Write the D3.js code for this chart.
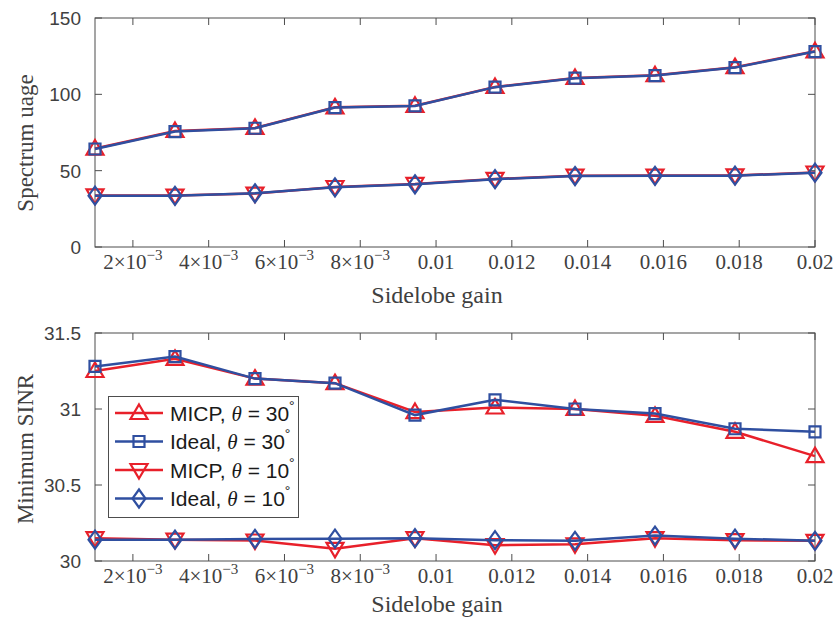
<!DOCTYPE html>
<html>
<head>
<meta charset="utf-8">
<script src="https://cdn.jsdelivr.net/npm/d3@7"></script>
<style>
  body { margin: 0; background: #fff; }
</style>
</head>
<body>
<svg id="chart" width="833" height="619"></svg>
<script>
  // sidelobe gain values (x)
  var gains = [0.001, 0.003111, 0.005222, 0.007333, 0.009444, 0.011556, 0.013667, 0.015778, 0.017889, 0.02];

  // spectrum usage
  var usageMicp30 = [64.5, 76, 78, 91.5, 92.5, 104.8, 110.7, 112.5, 117.8, 128.2];
  var usageIdeal30 = [64.2, 75.6, 77.8, 91.3, 92.4, 104.7, 110.6, 112.3, 117.5, 128.0];
  var usageMicp10 = [33.8, 33.7, 35.0, 39.3, 41.3, 44.6, 46.7, 46.8, 46.9, 48.8];
  var usageIdeal10 = [33.6, 33.5, 35.2, 39.1, 41.1, 44.4, 46.5, 46.6, 46.7, 48.7];

  // minimum SINR
  var sinrMicp30 = [31.25, 31.33, 31.20, 31.17, 30.98, 31.01, 31.0, 30.955, 30.85, 30.69];
  var sinrIdeal30 = [31.28, 31.345, 31.20, 31.17, 30.96, 31.06, 31.0, 30.97, 30.87, 30.85];
  var sinrMicp10 = [30.15, 30.14, 30.135, 30.08, 30.15, 30.104, 30.11, 30.15, 30.137, 30.133];
  var sinrIdeal10 = [30.14, 30.14, 30.145, 30.147, 30.15, 30.137, 30.133, 30.167, 30.147, 30.133];

  // tick labels
  var xTicks = [0.002, 0.004, 0.006, 0.008, 0.01, 0.012, 0.014, 0.016, 0.018, 0.02];
  var xTickLabels = [["2\u00d710", "\u22123"], ["4\u00d710", "\u22123"], ["6\u00d710", "\u22123"], ["8\u00d710", "\u22123"],
    ["0.01"], ["0.012"], ["0.014"], ["0.016"], ["0.018"], ["0.02"]];
  var usageTicks = [0, 50, 100, 150];
  var sinrTicks = [30, 30.5, 31, 31.5];
  var sinrTickLabels = ["30", "30.5", "31", "31.5"];

  var legendNames = ["MICP", "Ideal", "MICP", "Ideal"];
  var legendAngles = ["30", "30", "10", "10"];

  var RED = "#e8202a", BLUE = "#2f4fa0";
  var SERIF = "'Liberation Serif'";
  var SANS = "'Liberation Sans'";
  var TXT = "#404040";

  var svg = d3.select("#chart");

  // marker shapes
  function markerPath(kind) {
    if (kind === "up") return "M0,-8.5L8.5,6L-8.5,6Z";
    if (kind === "down") return "M0,8.5L8.5,-6L-8.5,-6Z";
    if (kind === "square") return "M-5.5,-5.5H5.5V5.5H-5.5Z";
    return "M0,-9L6.5,0L0,9L-6.5,0Z";
  }

  function drawPanel(opt) {
    var x = d3.scaleLinear().domain([0.001, 0.02]).range([95, 815]);
    var y = d3.scaleLinear().domain(opt.domain).range([opt.bottom, opt.top]);
    var g = svg.append("g");

    // box + ticks
    g.append("rect")
      .attr("x", 95).attr("y", opt.top)
      .attr("width", 720).attr("height", opt.bottom - opt.top)
      .attr("fill", "none").attr("stroke", "#4d4d4d").attr("stroke-width", 1);

    xTicks.forEach(function (t) {
      g.append("line").attr("x1", x(t)).attr("x2", x(t))
        .attr("y1", opt.bottom).attr("y2", opt.bottom - 7).attr("stroke", "#4d4d4d");
      g.append("line").attr("x1", x(t)).attr("x2", x(t))
        .attr("y1", opt.top).attr("y2", opt.top + 7).attr("stroke", "#4d4d4d");
    });
    opt.yTicks.forEach(function (t) {
      g.append("line").attr("x1", 95).attr("x2", 102)
        .attr("y1", y(t)).attr("y2", y(t)).attr("stroke", "#4d4d4d");
      g.append("line").attr("x1", 815).attr("x2", 808)
        .attr("y1", y(t)).attr("y2", y(t)).attr("stroke", "#4d4d4d");
    });

    // tick labels
    opt.yTicks.forEach(function (t, i) {
      g.append("text").style("font-family", SANS).attr("fill", TXT)
        .attr("x", 81).attr("y", y(t) + 7)
        .attr("text-anchor", "end").attr("font-size", 19)
        .text(opt.yLabels[i]);
    });
    xTicks.forEach(function (t, i) {
      var lab = xTickLabels[i];
      var txt = g.append("text").style("font-family", SERIF).attr("fill", TXT)
        .attr("x", x(t)).attr("y", opt.bottom + 22)
        .attr("text-anchor", "middle").attr("font-size", 21);
      txt.append("tspan").text(lab[0]);
      if (lab[1]) {
        txt.append("tspan").attr("dy", -9).attr("font-size", 15).text(lab[1]);
      }
    });

    // axis titles
    g.append("text").style("font-family", SERIF).attr("fill", TXT)
      .attr("x", 437).attr("y", opt.bottom + opt.titleGap)
      .attr("text-anchor", "middle").attr("font-size", 24)
      .text("Sidelobe gain");
    g.append("text").style("font-family", SERIF).attr("fill", TXT)
      .attr("transform", "translate(33," + opt.labelY + ") rotate(-90)")
      .attr("text-anchor", "middle").attr("font-size", 23)
      .text(opt.yTitle);

    // series
    var line = d3.line().x(function (d, i) { return x(gains[i]); }).y(function (d) { return y(d); });
    opt.series.forEach(function (s) {
      g.append("path").datum(s.values)
        .attr("d", line).attr("fill", "none")
        .attr("stroke", s.color).attr("stroke-width", 2.5);
      g.selectAll(null).data(s.values).enter().append("path")
        .attr("transform", function (d, i) { return "translate(" + x(gains[i]) + "," + y(d) + ")"; })
        .attr("d", markerPath(s.marker))
        .attr("fill", "none").attr("stroke", s.color).attr("stroke-width", 2.2);
    });
  }

  drawPanel({
    top: 18, bottom: 247, domain: [0, 150], titleGap: 56,
    yTicks: usageTicks, yLabels: usageTicks.map(String),
    yTitle: "Spectrum uage", labelY: 143,
    series: [
      {values: usageMicp30, color: RED, marker: "up"},
      {values: usageIdeal30, color: BLUE, marker: "square"},
      {values: usageMicp10, color: RED, marker: "down"},
      {values: usageIdeal10, color: BLUE, marker: "diamond"}
    ]
  });

  drawPanel({
    top: 333, bottom: 561, domain: [30, 31.5], titleGap: 51,
    yTicks: sinrTicks, yLabels: sinrTickLabels,
    yTitle: "Minimum SINR", labelY: 449,
    series: [
      {values: sinrMicp30, color: RED, marker: "up"},
      {values: sinrIdeal30, color: BLUE, marker: "square"},
      {values: sinrMicp10, color: RED, marker: "down"},
      {values: sinrIdeal10, color: BLUE, marker: "diamond"}
    ]
  });

  // legend
  var leg = svg.append("g");
  leg.append("rect").attr("x", 108.5).attr("y", 396.5).attr("width", 190).attr("height", 121)
    .attr("fill", "#fff").attr("stroke", "#4d4d4d").attr("stroke-width", 1);
  var legColors = [RED, BLUE, RED, BLUE];
  var legMarkers = ["up", "square", "down", "diamond"];
  legendNames.forEach(function (name, i) {
    var ly = 413 + i * 28.5;
    leg.append("line").attr("x1", 115).attr("x2", 163).attr("y1", ly).attr("y2", ly)
      .attr("stroke", legColors[i]).attr("stroke-width", 2.5);
    leg.append("path").attr("transform", "translate(139," + ly + ")")
      .attr("d", markerPath(legMarkers[i]))
      .attr("fill", "none").attr("stroke", legColors[i]).attr("stroke-width", 2.2);
    var t = leg.append("text").style("font-family", SANS).attr("fill", "#1a1a1a")
      .attr("x", 170).attr("y", ly + 7.5).attr("font-size", 21);
    t.append("tspan").text(name + ", ");
    t.append("tspan").style("font-family", SERIF).attr("font-style", "italic").text("\u03b8");
    t.append("tspan").text(" = " + legendAngles[i]);
    t.append("tspan").attr("dy", -10).attr("font-size", 14).text("\u00b0");
  });
</script>
</body>
</html>
